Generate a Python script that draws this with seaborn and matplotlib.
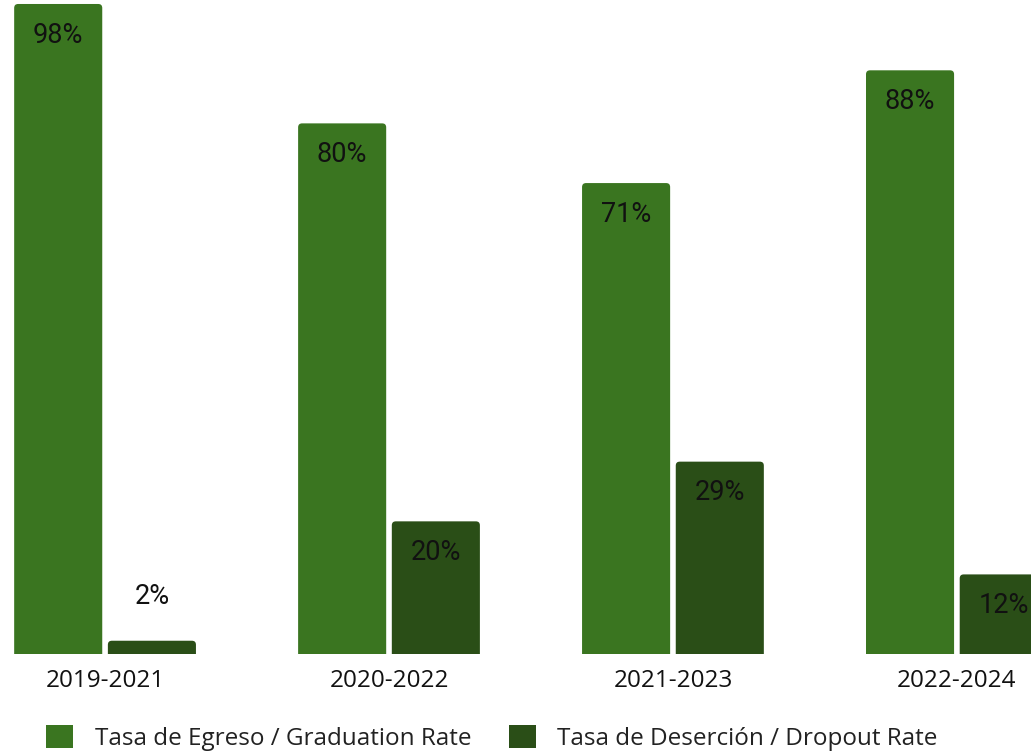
import matplotlib
matplotlib.use("Agg")
import matplotlib.pyplot as plt
from matplotlib.patches import FancyBboxPatch, Patch
import seaborn as sns
import pandas as pd

periods = ["2019-2021", "2020-2022", "2021-2023", "2022-2024"]
series_names = ["Tasa de Egreso / Graduation Rate", "Tasa de Deserción / Dropout Rate"]
graduation = [98, 80, 71, 88]
dropout = [2, 20, 29, 12]
colors = ["#3a7520", "#2a4e17"]

df = pd.DataFrame({
    "period": periods * 2,
    "series": [series_names[0]] * 4 + [series_names[1]] * 4,
    "value": graduation + dropout,
})

sns.set_theme(style="white")
plt.rcParams["font.family"] = ["Open Sans", "DejaVu Sans"]

fig = plt.figure(figsize=(10.31, 7.52), dpi=100)
ax = fig.add_axes([0.0, 98 / 752, 1.0, 1 - 98 / 752])

sns.barplot(data=df, x="period", y="value", hue="series", palette=colors,
            width=0.66, gap=0.06, legend=False, ax=ax, saturation=1,
            errorbar=None)

ax.set_ylim(0, 98.6)
ax.set_xlim(-0.370, 3.261)
for s in ax.spines.values():
    s.set_visible(False)
ax.set_yticks([])
ax.set_xlabel("")
ax.set_ylabel("")
ax.tick_params(axis="x", length=0, pad=11, labelsize=17.5, colors="#111111")

# value labels
for cont in ax.containers:
    for rect in cont:
        h = rect.get_height()
        xc = rect.get_x() + rect.get_width() / 2
        off = -22.5 if h > 6 else 32
        ax.annotate(f"{h:.0f}%", xy=(xc, h), xytext=(0, off),
                    textcoords="offset points", ha="center", va="center",
                    fontsize=19.5, family=["Roboto", "DejaVu Sans"], color="#111111")

# rounded tops
r = 0.014
aspect = (1 / 6.63) / (1 / 284)
for rect in list(ax.patches):
    x, y = rect.get_x(), rect.get_y()
    w, h = rect.get_width(), rect.get_height()
    fc = rect.get_facecolor()
    rect.remove()
    ry = r * aspect
    fb = FancyBboxPatch((x, y - ry), w, h + ry,
                        boxstyle=f"round,pad=0,rounding_size={r}",
                        mutation_aspect=aspect, facecolor=fc, edgecolor="none")
    ax.add_patch(fb)

handles = [Patch(facecolor=c, edgecolor="none") for c in colors]
fig.legend(handles, series_names, loc="center left",
           bbox_to_anchor=(46 / 1031, 14 / 752), ncol=2, frameon=False,
           fontsize=17.5, handlelength=1.1, handleheight=1.1,
           handletextpad=0.9, columnspacing=1.55, borderpad=0,
           borderaxespad=0, labelcolor="#222222")

fig.savefig("out.png", dpi=100)
